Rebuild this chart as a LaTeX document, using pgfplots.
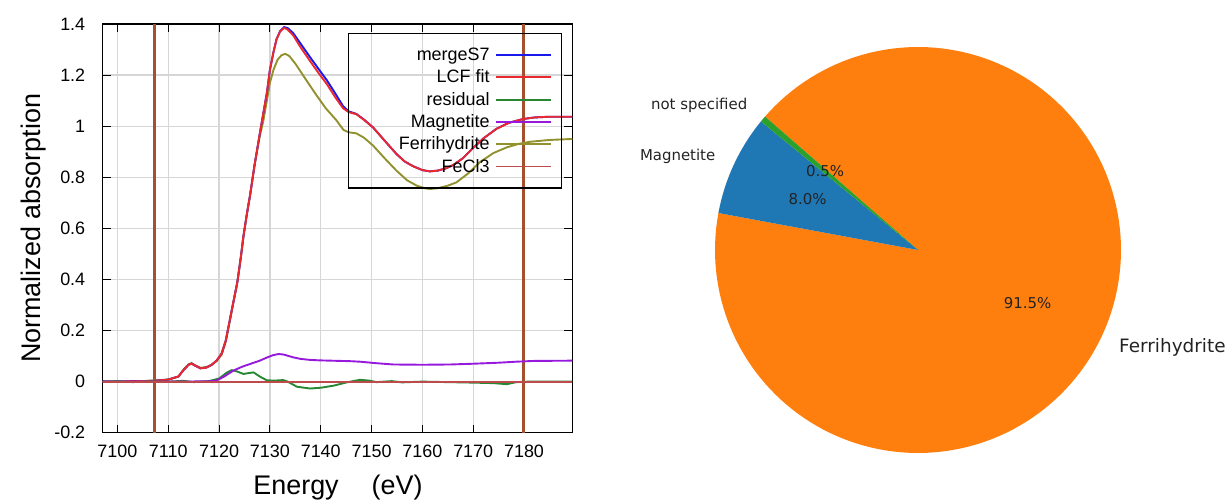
\documentclass[border=0pt]{standalone}
\usepackage{pgfplots}
\pgfplotsset{compat=1.18}
\usepackage{fontspec}
\setmainfont{Liberation Sans}
\newfontfamily\djv{DejaVu Sans}

% curve colours (gnuplot-like)
\definecolor{cMerge}{RGB}{25,25,235}
\definecolor{cFit}{RGB}{235,40,45}
\definecolor{cRes}{RGB}{40,135,50}
\definecolor{cMag}{RGB}{150,25,220}
\definecolor{cFh}{RGB}{145,145,45}
\definecolor{cFe}{RGB}{190,75,75}
\definecolor{cRange}{RGB}{165,80,45}
% pie colours (matplotlib defaults)
\definecolor{mplblue}{HTML}{1F77B4}
\definecolor{mplorange}{HTML}{FF7F0E}
\definecolor{mplgreen}{HTML}{2CA02C}
\definecolor{pietext}{RGB}{35,35,35}

\newcommand{\lgd}[1]{\makebox[132bp][r]{#1}}

% LCF shares (percent)
\def\pctNS{0.5}
\def\pctMag{8.0}
\def\pctFh{91.5}
\def\pieStart{138.9}

\begin{document}
\begin{tikzpicture}
\path[use as bounding box] (0,0) rectangle (1228bp,500bp);

\begin{axis}[
  at={(102.7bp,67.3bp)}, anchor=south west,
  scale only axis, width=469.6bp, height=408.7bp,
  xmin=7097.1, xmax=7189.5, ymin=-0.2, ymax=1.4,
  xtick={7100,7110,...,7180},
  ytick={-0.2,0,0.2,0.4,0.6,0.8,1,1.2,1.4},
  scaled x ticks=false,
  /pgf/number format/1000 sep={},
  /pgf/number format/assume math mode=true,
  tick align=inside, tick pos=both,
  major tick length=8bp,
  every tick/.style={black, line width=1bp},
  axis line style={black, line width=1.2bp},
  grid=major,
  major grid style={line width=1.2bp, color=black!16},
  ticklabel style={font=\fontsize{18}{20}\selectfont},
  yticklabel style={xshift=-14bp},
  xticklabel style={yshift=-9bp},
  xlabel={Energy\hspace{33bp}(eV)},
  ylabel={Normalized absorption},
  xlabel style={at={(axis description cs:0.501,-0.1524)}, anchor=base, font=\fontsize{27}{30}\selectfont},
  ylabel style={at={(axis description cs:-0.1335,0.5)}, anchor=base, font=\fontsize{27}{30}\selectfont},
  legend plot pos=right,
  legend image code/.code={\draw[#1, line width=1.9bp] (0bp,0bp) -- (55bp,0bp);},
  legend style={
    at={(axis description cs:0.978,0.978)}, anchor=north east,
    draw=black, line width=1.1bp, fill=none,
    inner xsep=9bp, inner ysep=13bp,
    row sep=5.3bp, column sep=6bp,
    font=\fontsize{18}{18}\selectfont,
    nodes={inner sep=0pt, text height=14bp, text depth=3bp},
  },
]

% fit range markers
\addplot[cRange, line width=2.4bp, forget plot] coordinates {(7107.3,-0.2) (7107.3,1.4)};
\addplot[cRange, line width=2.4bp, forget plot] coordinates {(7179.9,-0.2) (7179.9,1.4)};

% Ferrihydrite reference (drawn underneath the fit)
\addplot[cFh, line width=1.9bp, forget plot] coordinates {
(7097,0) (7105,0.002) (7110,0.008) (7112,0.02) (7113,0.047) (7114,0.068) (7114.6,0.072)
(7115.3,0.064) (7116.3,0.054) (7117.5,0.057) (7118.5,0.066) (7119.5,0.08) (7120.5,0.105)
(7121.3,0.155) (7122.2,0.245) (7123,0.33) (7123.6,0.39) (7124.3,0.49) (7124.8,0.57)
(7125.5,0.66) (7126.1,0.73) (7127,0.85) (7128,0.96) (7128.7,1.02) (7129.4,1.1)
(7130,1.17) (7130.7,1.22) (7131.5,1.26) (7132.3,1.278) (7133,1.283) (7133.8,1.275)
(7135,1.245) (7136,1.215) (7137.5,1.17) (7139.2,1.12) (7141,1.07) (7143,1.025)
(7144.5,0.985) (7145.5,0.976) (7147,0.972) (7148.5,0.955) (7150.3,0.924) (7152.5,0.876)
(7154.9,0.826) (7157,0.788) (7158.9,0.767) (7160.5,0.757) (7161.5,0.754) (7163,0.757)
(7165,0.767) (7166.7,0.78) (7169,0.815) (7171.3,0.859) (7174,0.895) (7176.6,0.917)
(7179,0.931) (7181.2,0.939) (7185,0.946) (7189.5,0.95)};

% merged sample spectrum
\addplot[cMerge, line width=1.9bp] coordinates {
(7097,0.001) (7100,-0.001) (7103,0.002) (7105,0.001) (7108,0.004) (7110,0.008)
(7112,0.02) (7113,0.045) (7114,0.066) (7114.6,0.071) (7115.3,0.062) (7116.3,0.052)
(7117.5,0.055) (7118.5,0.065) (7119.5,0.082) (7120.5,0.11) (7121.3,0.16) (7122.2,0.25)
(7123,0.33) (7123.6,0.39) (7124.3,0.49) (7124.8,0.57) (7125.5,0.66) (7126.1,0.73)
(7127,0.85) (7128,0.97) (7128.7,1.05) (7129.4,1.13) (7130,1.22) (7130.7,1.29)
(7131.3,1.34) (7132,1.372) (7132.8,1.388) (7133.5,1.384) (7134.6,1.364) (7136,1.324)
(7137.9,1.27) (7139.5,1.226) (7141.2,1.18) (7142.8,1.13) (7144.4,1.078) (7145.5,1.058)
(7147,1.048) (7148.5,1.026) (7150.3,0.995) (7152.5,0.945) (7154.9,0.891) (7156.5,0.862)
(7158.2,0.843) (7160,0.828) (7161.5,0.823) (7163,0.826) (7164.5,0.834) (7166.1,0.848)
(7168,0.875) (7170,0.915) (7172,0.952) (7174.6,0.99) (7177,1.013) (7179.8,1.028)
(7182,1.034) (7185,1.037) (7189.5,1.037)};
\addlegendentry{\lgd{mergeS7}}

% linear combination fit
\addplot[cFit, line width=1.9bp] coordinates {
(7097,0) (7100,0) (7105,0.002) (7108,0.004) (7110,0.008)
(7112,0.02) (7113,0.045) (7114,0.066) (7114.6,0.07) (7115.3,0.062) (7116.3,0.052)
(7117.5,0.055) (7118.5,0.065) (7119.5,0.082) (7120.5,0.11) (7121.3,0.16) (7122.2,0.25)
(7123,0.33) (7123.6,0.39) (7124.3,0.49) (7124.8,0.57) (7125.5,0.66) (7126.1,0.73)
(7127,0.85) (7128,0.97) (7128.7,1.05) (7129.4,1.13) (7130,1.22) (7130.7,1.29)
(7131.3,1.34) (7132,1.37) (7132.8,1.385) (7133.5,1.378) (7134.6,1.355) (7136,1.31)
(7137.9,1.255) (7139.5,1.21) (7141.2,1.165) (7142.8,1.115) (7144.4,1.07) (7145.5,1.055)
(7147,1.047) (7148.5,1.025) (7150.3,0.995) (7152.5,0.945) (7154.9,0.891) (7156.5,0.862)
(7158.2,0.843) (7160,0.828) (7161.5,0.823) (7163,0.826) (7164.5,0.834) (7166.1,0.848)
(7168,0.875) (7170,0.915) (7172,0.952) (7174.6,0.99) (7177,1.013) (7179.8,1.028)
(7182,1.034) (7185,1.037) (7189.5,1.037)};
\addlegendentry{\lgd{LCF fit}}

% residual
\addplot[cRes, line width=1.9bp] coordinates {
(7097,0) (7100,0.002) (7103,-0.002) (7106,0.001) (7110,0) (7113,0.003) (7115,-0.002)
(7118,0.002) (7120,0.012) (7121.5,0.035) (7122.5,0.045) (7123.5,0.04) (7124.8,0.03)
(7126,0.034) (7126.8,0.036) (7128,0.02) (7129.4,0.005) (7131,0.004) (7132.6,0.006)
(7133.5,0) (7135.3,-0.02) (7137.9,-0.027) (7140,-0.024) (7142.5,-0.016) (7145.1,-0.003)
(7147.7,0.007) (7149.5,0.004) (7151,-0.002) (7154,0.002) (7156,-0.003) (7160,0)
(7165,-0.002) (7170,-0.004) (7174,-0.006) (7176.6,-0.01) (7178.5,-0.002) (7181,0)
(7189.5,0)};
\addlegendentry{\lgd{residual}}

% Magnetite reference
\addplot[cMag, line width=1.9bp] coordinates {
(7097,0) (7110,0) (7118,0.001) (7119.5,0.004) (7121,0.02) (7122.8,0.043) (7124.5,0.058)
(7126.1,0.069) (7128,0.082) (7129.5,0.095) (7130.7,0.104) (7131.7,0.108) (7132.7,0.106)
(7134.6,0.095) (7136,0.089) (7137.9,0.085) (7140,0.083) (7145.8,0.08) (7147.7,0.078)
(7151,0.072) (7154.3,0.067) (7160,0.066) (7165.4,0.067) (7170,0.07) (7175,0.074)
(7178.5,0.078) (7182,0.081) (7189.5,0.082)};
\addlegendentry{\lgd{Magnetite}}

\addlegendimage{cFh}
\addlegendentry{\lgd{Ferrihydrite}}

% FeCl3 reference (zero weight)
\addplot[cFe, line width=1.9bp] coordinates {(7097.1,0) (7189.5,0)};
\addlegendentry{\lgd{FeCl3}}
\end{axis}

% pie of the fitted fractions
\pgfmathsetmacro\aA{\pieStart}
\pgfmathsetmacro\aB{\aA+3.6*\pctNS}
\pgfmathsetmacro\aC{\aB+3.6*\pctMag}
\pgfmathsetmacro\aD{\aC+3.6*\pctFh}
\pgfmathsetmacro\mA{(\aA+\aB)/2}
\pgfmathsetmacro\mB{(\aB+\aC)/2}
\pgfmathsetmacro\mC{(\aC+\aD)/2}
\begin{axis}[
  at={(715bp,47bp)}, anchor=south west,
  scale only axis, width=406bp, height=406bp,
  xmin=-1, xmax=1, ymin=-1, ymax=1,
  hide axis, clip=false,
]
\addplot[fill=mplorange, draw=none, domain=\aC:\aD, samples=160, variable=\t]
  ({cos(\t)},{sin(\t)}) -- (axis cs:0,0) -- cycle;
\addplot[fill=mplblue, draw=none, domain=\aB:\aC, samples=20, variable=\t]
  ({cos(\t)},{sin(\t)}) -- (axis cs:0,0) -- cycle;
\addplot[fill=mplgreen, draw=none, domain=\aA:\aB, samples=4, variable=\t]
  ({cos(\t)},{sin(\t)}) -- (axis cs:0,0) -- cycle;

\node[anchor=east, text=pietext, font=\djv\fontsize{15}{18}\selectfont, inner sep=0pt]
  at (axis cs:{1.1*cos(\mA)},{1.1*sin(\mA)}) {not specified};
\node[anchor=east, text=pietext, font=\djv\fontsize{15}{18}\selectfont, inner sep=0pt]
  at (axis cs:{1.1*cos(\mB)},{1.1*sin(\mB)}) {Magnetite};
\node[anchor=west, text=pietext, font=\djv\fontsize{18.5}{22}\selectfont, inner sep=0pt]
  at (axis cs:{1.1*cos(\mC)},{1.1*sin(\mC)}) {Ferrihydrite};

\node[text=pietext, font=\djv\fontsize{15}{18}\selectfont, inner sep=0pt]
  at (axis cs:{0.6*cos(\mA)},{0.6*sin(\mA)}) {0.5\%};
\node[text=pietext, font=\djv\fontsize{15}{18}\selectfont, inner sep=0pt]
  at (axis cs:{0.6*cos(\mB)},{0.6*sin(\mB)}) {8.0\%};
\node[text=pietext, font=\djv\fontsize{15}{18}\selectfont, inner sep=0pt]
  at (axis cs:{0.6*cos(\mC)},{0.6*sin(\mC)}) {91.5\%};
\end{axis}
\end{tikzpicture}
\end{document}
